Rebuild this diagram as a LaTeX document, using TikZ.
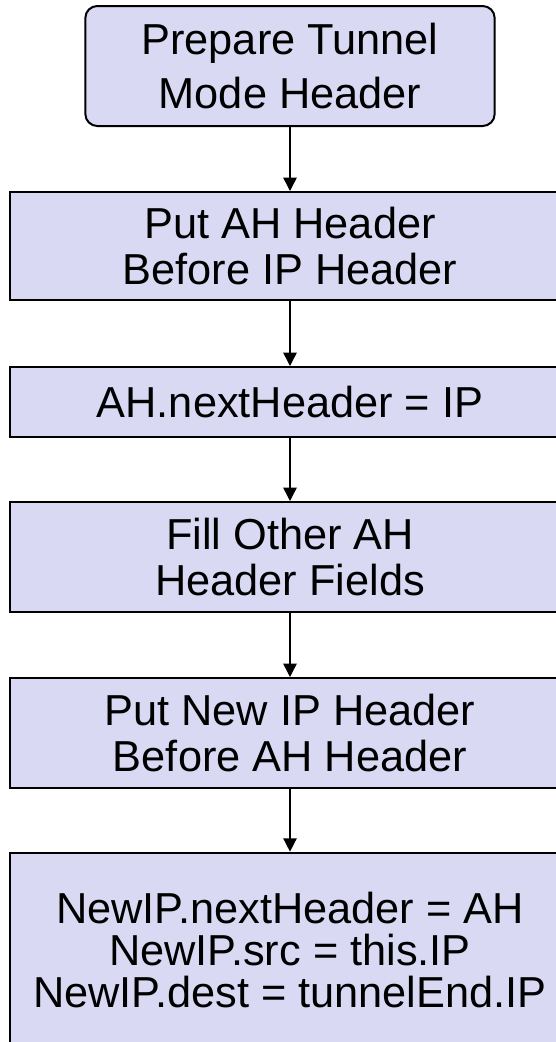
\documentclass[tikz,border=0pt]{standalone}
\usepackage{fontspec}
\setmainfont{Liberation Sans}
\usepackage{tikz}
\usetikzlibrary{arrows.meta}
\definecolor{boxfill}{RGB}{217,217,243}
\tikzstyle{procbox}=[draw, line width=1.5pt, fill=boxfill, align=center, inner sep=0,
                     minimum width=420pt, font=\fontsize{32.5}{34}\selectfont]
\tikzstyle{startbox}=[procbox, rounded corners=9pt, minimum width=307pt]
\tikzstyle{flow}=[line width=1.1pt, -{Triangle[width=10pt,length=10pt]}]
\begin{document}
\begin{tikzpicture}[x=0.75pt, y=-0.75pt]
        % page is 556 x 1042 px, y grows downward
        \useasboundingbox (0, 0) rectangle (556, 1042);
        \node[startbox, minimum height=90pt, font=\fontsize{32.5}{40}\selectfont] (prep) at (290, 66) {Prepare Tunnel\\Mode Header};
        \node[procbox, minimum height=81pt] (putah) at (290, 246) {Put AH Header\\Before IP Header};
        \node[procbox, minimum height=52.5pt] (ahnext) at (290, 402) {AH.nextHeader = IP};
        \node[procbox, minimum height=82.5pt] (fill) at (290, 557) {Fill Other AH\\Header Fields};
        \node[procbox, minimum height=82.5pt] (putip) at (290, 733) {Put New IP Header\\Before AH Header};
        \node[procbox, minimum height=146pt, font=\fontsize{32.5}{31.5}\selectfont] (newip) at (290, 950) {NewIP.nextHeader = AH\\NewIP.src = this.IP\\NewIP.dest = tunnelEnd.IP};
        \draw[flow] (prep) -- (putah);
        \draw[flow] (putah) -- (ahnext);
        \draw[flow] (ahnext) -- (fill);
        \draw[flow] (fill) -- (putip);
        \draw[flow] (putip) -- (newip);
\end{tikzpicture}
\end{document}
